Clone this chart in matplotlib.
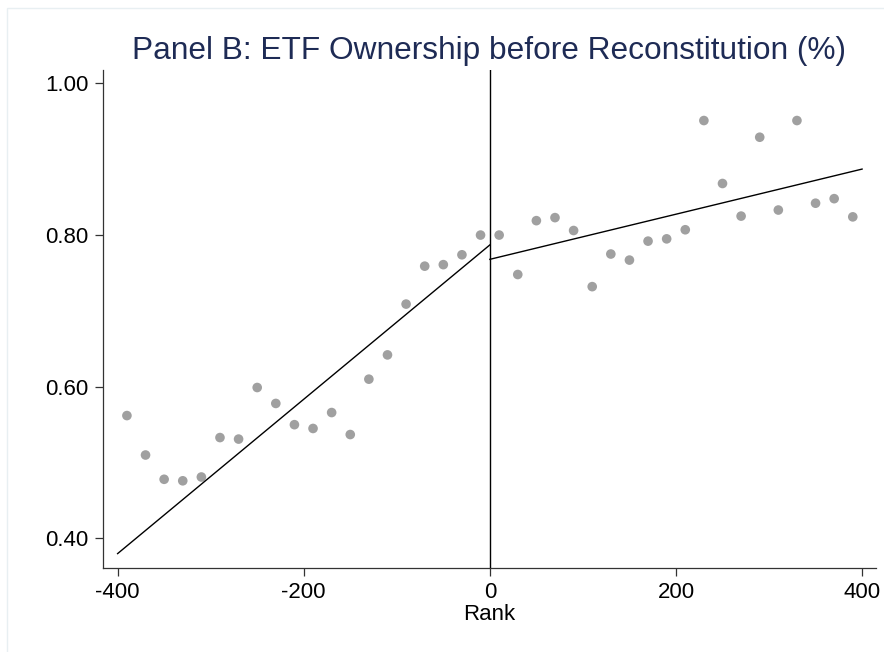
import numpy as np
import matplotlib
matplotlib.use("Agg")
import matplotlib.pyplot as plt
from matplotlib.patches import Rectangle

plt.rcParams['font.family'] = ['Liberation Sans', 'DejaVu Sans']

# binned means of ETF ownership by rank
rank = np.arange(-390, 391, 20)
ownership = [0.562, 0.510, 0.478, 0.476, 0.481, 0.533, 0.531, 0.599, 0.578, 0.550,
             0.545, 0.566, 0.537, 0.610, 0.642, 0.709, 0.759, 0.761, 0.774, 0.800,
             0.800, 0.748, 0.819, 0.823, 0.806, 0.732, 0.775, 0.767, 0.792, 0.795,
             0.807, 0.951, 0.868, 0.825, 0.929, 0.833, 0.951, 0.842, 0.848, 0.824]

# linear fits on each side of the cutoff
fit_left_x = [-400, 0]
fit_left_y = [0.380, 0.787]
fit_right_x = [0, 400]
fit_right_y = [0.768, 0.887]

xticks = [-400, -200, 0, 200, 400]
yticks = [0.40, 0.60, 0.80, 1.00]

fig = plt.figure(figsize=(8.84, 6.52), dpi=100)
# faint outer frame of the graph region
fig.patches.append(Rectangle((7 / 884, -0.1), 1.2, (652 - 8) / 652 + 0.1,
                             transform=fig.transFigure, fill=False,
                             edgecolor='#e8eff2', linewidth=1.0))

ax = fig.add_axes([0.1162, 0.1288, 0.8748, 0.7638])

ax.scatter(rank, ownership, s=48, color='#a0a0a0', edgecolors='none', zorder=2)
ax.plot(fit_left_x, fit_left_y, color='black', lw=1.0, zorder=3)
ax.plot(fit_right_x, fit_right_y, color='black', lw=1.0, zorder=3)
ax.axvline(0, color='black', lw=1.0, zorder=3)

ax.set_xlim(-416, 415)
ax.set_ylim(0.361, 1.0176)
ax.set_xticks(xticks)
ax.set_xticklabels([str(t) for t in xticks])
ax.set_yticks(yticks)
ax.set_yticklabels([f"{t:.2f}" for t in yticks])

for s in ['top', 'right']:
    ax.spines[s].set_visible(False)
for s in ['left', 'bottom']:
    ax.spines[s].set_color('#333333')
    ax.spines[s].set_linewidth(0.9)
ax.tick_params(axis='both', colors='#333333', labelcolor='black',
               length=6, width=0.9, labelsize=16)
ax.tick_params(axis='y', pad=4.5)
ax.tick_params(axis='x', pad=4)

ax.set_xlabel("Rank", fontsize=16, labelpad=1)
ax.set_title("Panel B: ETF Ownership before Reconstitution (%)",
             fontsize=22.8, color='#1e2b55', pad=8)

fig.savefig("out.png", dpi=100)
